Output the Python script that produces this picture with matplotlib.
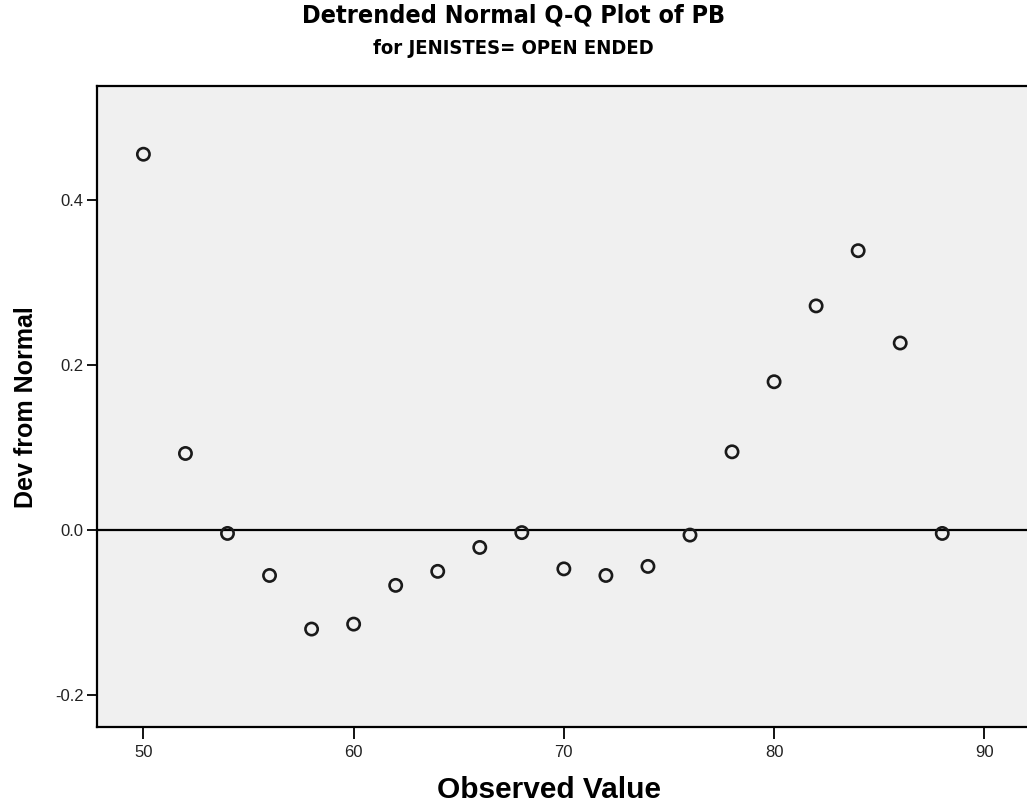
import matplotlib
matplotlib.use('Agg')
import matplotlib.pyplot as plt

observed = [50, 52, 54, 56, 58, 60, 62, 64, 66, 68,
            70, 72, 74, 76, 78, 80, 82, 84, 86, 88]
dev = [0.456, 0.093, -0.004, -0.055, -0.120, -0.114, -0.067, -0.050, -0.021, -0.003,
       -0.047, -0.055, -0.044, -0.006, 0.095, 0.180, 0.272, 0.339, 0.227, -0.004]

x_ticks = [50, 60, 70, 80, 90]
y_ticks = [-0.2, 0.0, 0.2, 0.4]

plt.rcParams['font.family'] = ['Liberation Sans', 'DejaVu Sans']

fig = plt.figure(figsize=(10.27, 8.05), dpi=100)
ax = fig.add_axes([0.0942, 0.0965, 0.9068, 0.7967])
ax.set_facecolor('#f0f0f0')

ax.axhline(0, color='black', lw=1.6, zorder=1)
ax.scatter(observed, dev, s=78, facecolors='none', edgecolors='#1a1a1a',
           linewidths=1.9, zorder=3)

ax.set_xlim(47.78, 92.08)
ax.set_ylim(-0.2392, 0.5388)
ax.set_xticks(x_ticks)
ax.set_xticklabels([str(v) for v in x_ticks])
ax.set_yticks(y_ticks)
ax.set_yticklabels(['%.1f' % v for v in y_ticks])

for s in ['left', 'bottom', 'top']:
    ax.spines[s].set_linewidth(1.6)
    ax.spines[s].set_color('black')
ax.spines['right'].set_visible(False)

ax.tick_params(axis='y', length=7.5, width=1.3, pad=2, labelsize=12, colors='black')
ax.tick_params(axis='x', length=8.5, width=1.3, pad=4, labelsize=12, colors='black')
for lab in ax.get_xticklabels() + ax.get_yticklabels():
    lab.set_color('#222222')

ax.set_ylabel('Dev from Normal', fontsize=18, fontweight='bold', labelpad=12)

# axis titles and headings placed in figure pixels
fig.text(549 / 1027, 1 - 790 / 805, 'Observed Value', ha='center', va='center',
         fontsize=21.5, fontweight='bold')
fig.text(0.5, 1 - 15 / 805, 'Detrended Normal Q-Q Plot of PB', ha='center', va='center',
         fontsize=18, fontweight='bold', fontstretch='condensed', family='DejaVu Sans')
fig.text(0.5, 1 - 48 / 805, 'for JENISTES= OPEN ENDED', ha='center', va='center',
         fontsize=14.5, fontweight='bold', fontstretch='condensed', family='DejaVu Sans')

fig.savefig('out.png', dpi=100)
